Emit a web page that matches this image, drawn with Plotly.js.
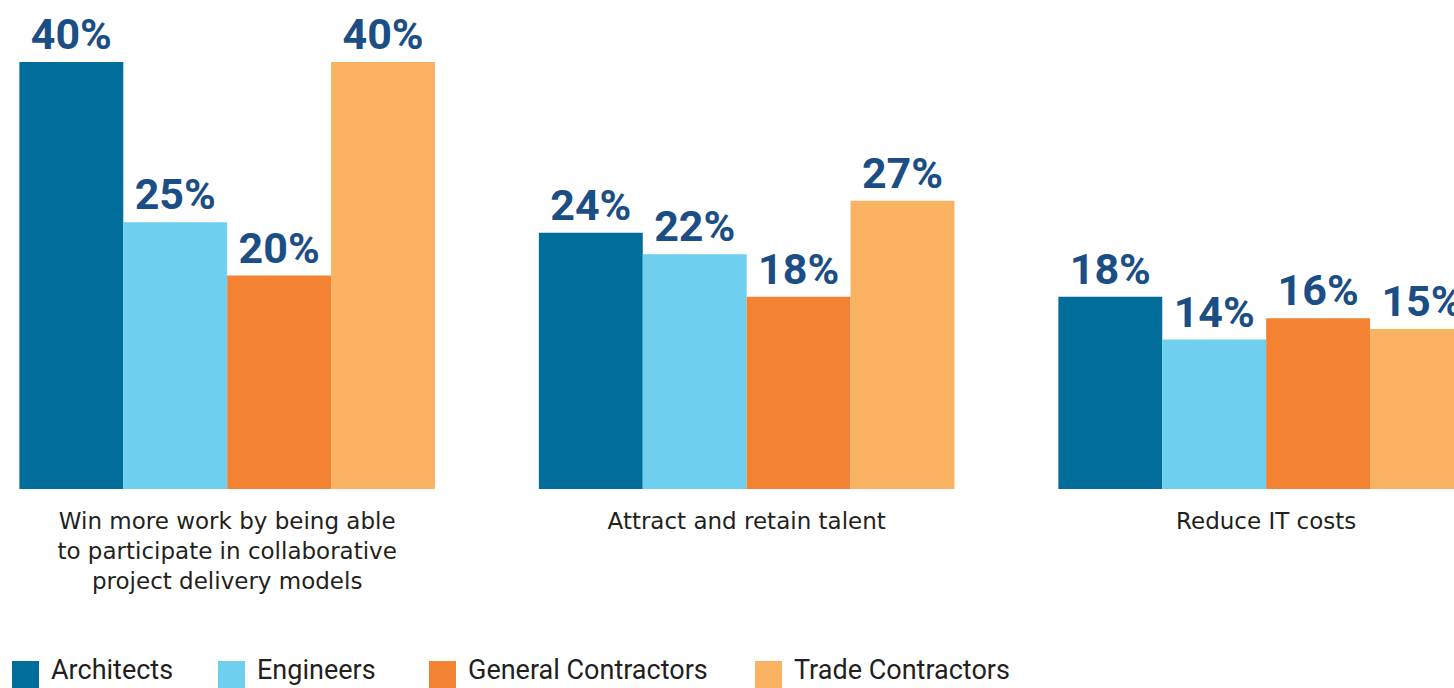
<!DOCTYPE html>
<html>
<head>
<meta charset="utf-8">
<script src="https://cdn.plot.ly/plotly-3.0.1.min.js"></script>
<style>html,body{margin:0;padding:0;background:#fff;}#chart{width:1454px;height:688px;}</style>
</head>
<body>
<div id="chart"></div>
<script>
const categories = ['Win more work', 'Attract and retain talent', 'Reduce IT costs'];
const tickLabels = ['Win more work by being able<br>to participate in collaborative<br>project delivery models', 'Attract and retain talent', 'Reduce IT costs'];
const seriesNames = ['Architects', 'Engineers', 'General Contractors', 'Trade Contractors'];
const architects = [40, 24, 18];
const engineers = [25, 22, 14];
const generalContractors = [20, 18, 16];
const tradeContractors = [40, 27, 15];

const seriesValues = [architects, engineers, generalContractors, tradeContractors];
const colors = ['#016d9a', '#6fcfee', '#f38233', '#f9b261'];
const labelFont = {family: 'Roboto, sans-serif', size: 43, color: '#1a4e85', weight: 'bold'};

const traces = seriesNames.map((name, i) => ({
  type: 'bar',
  name: name,
  x: categories,
  y: seriesValues[i],
  marker: {color: colors[i], line: {width: 0}},
  text: seriesValues[i].map(v => v + '%'),
  textposition: 'outside',
  textfont: labelFont,
  cliponaxis: false,
  showlegend: false,
  hoverinfo: 'skip'
}));

// custom legend (large square swatches)
const legendX = [12, 218, 429, 755];
const W = 1454, plotH = 489;
const shapes = [], annotations = [];
seriesNames.forEach((name, i) => {
  const x0 = legendX[i];
  shapes.push({type: 'rect', xref: 'paper', yref: 'paper',
    x0: x0 / W, x1: (x0 + 27) / W, y0: (plotH - 688) / plotH, y1: (plotH - 661) / plotH,
    fillcolor: colors[i], line: {width: 0}});
  annotations.push({xref: 'paper', yref: 'paper', x: (x0 + 37) / W, y: (plotH - 688) / plotH,
    xanchor: 'left', yanchor: 'bottom', showarrow: false, text: name,
    font: {family: 'Roboto, sans-serif', size: 27, color: '#231f20'}});
});

const layout = {
  width: 1454, height: 688,
  margin: {l: 0, r: 0, t: 0, b: 199, pad: 0},
  paper_bgcolor: '#ffffff', plot_bgcolor: '#ffffff',
  barmode: 'group', bargap: 0.2, bargroupgap: 0,
  showlegend: false,
  xaxis: {
    type: 'category', range: [-0.4373, 2.3616],
    tickmode: 'array', tickvals: categories, ticktext: tickLabels,
    showgrid: false, zeroline: false, showline: false, ticks: '',
    ticklabelstandoff: 16,
    tickfont: {family: 'DejaVu Sans, sans-serif', size: 23, color: '#231f20'},
    fixedrange: true
  },
  yaxis: {range: [0, 45.81], visible: false, fixedrange: true},
  shapes: shapes, annotations: annotations
};

Plotly.newPlot('chart', traces, layout, {displayModeBar: false, staticPlot: true});
</script>
</body>
</html>
